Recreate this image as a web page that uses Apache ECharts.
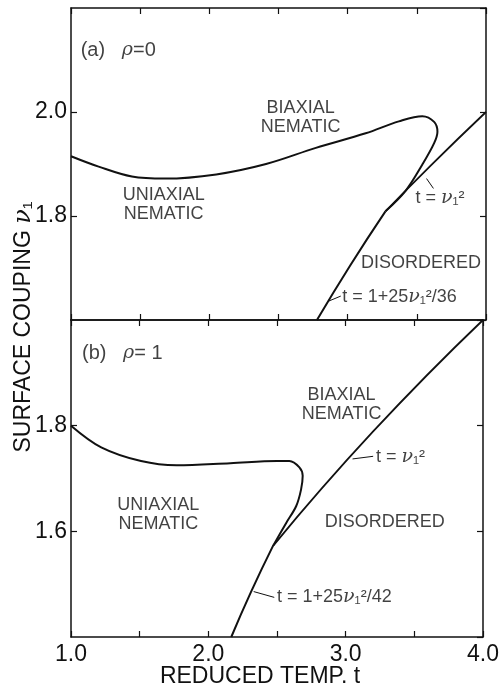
<!DOCTYPE html>
<html><head><meta charset="utf-8">
<script src="https://cdn.jsdelivr.net/npm/echarts@6/dist/echarts.min.js"></script>
<style>html,body{margin:0;padding:0;background:#fff}#c{width:502px;height:696px}</style>
</head><body><div id="c"></div>
<script>
// ---------- Panel (a): rho = 0 ----------
const aBiaxT   = [1.00, 1.20, 1.44, 1.68, 2.05, 2.41, 2.77, 3.13, 3.37, 3.54, 3.625, 3.649, 3.625, 3.54, 3.42, 3.273];
const aBiaxNu  = [1.915, 1.895, 1.876, 1.872, 1.880, 1.900, 1.931, 1.959, 1.982, 1.992, 1.981, 1.962, 1.940, 1.899, 1.849, 1.809];
const aFirstT  = [2.778, 3.016, 3.273];
const aFirstNu = [1.600, 1.704, 1.809];
const aSecondT  = [3.273, 3.60, 4.00];
const aSecondNu = [1.809, 1.897, 2.000];

// ---------- Panel (b): rho = 1 ----------
const bBiaxT   = [1.00, 1.22, 1.51, 1.77, 2.16, 2.50, 2.59, 2.663, 2.687, 2.675, 2.64, 2.567, 2.47];
const bBiaxNu  = [1.800, 1.759, 1.733, 1.725, 1.729, 1.733, 1.733, 1.721, 1.705, 1.679, 1.648, 1.616, 1.572];
const bFirstT  = [2.167, 2.31, 2.47];
const bFirstNu = [1.400, 1.485, 1.572];
const bSecondT  = [2.47, 3.20, 4.00];
const bSecondNu = [1.572, 1.789, 2.000];

// axis ranges / ticks
const tRange = [1.0, 4.0];
const aNuRange = [1.6, 2.2];
const bNuRange = [1.4, 2.0];

// annotation texts
const aTexts = ['(a)   {i|ρ}=0', 'BIAXIAL\nNEMATIC', 'UNIAXIAL\nNEMATIC', 'DISORDERED', 't = {i|ν}₁²', 't = 1+25{i|ν}₁²/36'];
const aTextT  = [1.07, 2.66, 1.67, 3.53, 3.49, 2.96];
const aTextNu = [2.119, 1.990, 1.823, 1.709, 1.834, 1.645];
const bTexts = ['(b)   {i|ρ}= 1', 'BIAXIAL\nNEMATIC', 'UNIAXIAL\nNEMATIC', 'DISORDERED', 't = {i|ν}₁²', 't = 1+25{i|ν}₁²/42'];
const bTextT  = [1.08, 2.97, 1.636, 3.285, 3.22, 2.50];
const bTextNu = [1.937, 1.840, 1.631, 1.617, 1.740, 1.476];
// leader lines
const aLead1T = [3.57, 3.62], aLead1Nu = [1.872, 1.853];
const aLead2T = [2.86, 2.95], aLead2Nu = [1.636, 1.646];
const bLead1T = [3.05, 3.20], bLead1Nu = [1.737, 1.742];
const bLead2T = [2.33, 2.48], bLead2Nu = [1.486, 1.475];

const FONT = 'Liberation Sans';
const INK = '#111';
const zip = (xs, ys) => xs.map((x, i) => [x, ys[i]]);

const chart = echarts.init(document.getElementById('c'));

function xAx(grid, pos, labels) {
  return {
    type: 'value', gridIndex: grid, position: pos, min: tRange[0], max: tRange[1], interval: 0.5,
    axisLine: { show: true, onZero: false, lineStyle: { color: INK, width: 1.5 } },
    axisTick: { show: true, inside: true, length: 6, lineStyle: { color: INK, width: 1.2 } },
    axisLabel: labels ? {
      show: true, margin: 6, color: INK, fontFamily: FONT, fontSize: 23,
      formatter: v => Math.abs(v - Math.round(v)) < 1e-6 ? v.toFixed(1) : ''
    } : { show: false },
    splitLine: { show: false }
  };
}
function yAx(grid, pos, range, labels) {
  return {
    type: 'value', gridIndex: grid, position: pos, min: range[0], max: range[1], interval: 0.2,
    axisLine: { show: true, onZero: false, lineStyle: { color: INK, width: 1.5 } },
    axisTick: { show: true, inside: true, length: 6, lineStyle: { color: INK, width: 1.2 } },
    axisLabel: labels ? {
      show: true, margin: 4, color: INK, fontFamily: FONT, fontSize: 23,
      showMinLabel: false, showMaxLabel: false, formatter: v => v.toFixed(1)
    } : { show: false },
    splitLine: { show: false }
  };
}
function curve(xi, yi, xs, ys, smooth, w) {
  return {
    type: 'line', xAxisIndex: xi, yAxisIndex: yi, data: zip(xs, ys), smooth: smooth,
    showSymbol: false, symbol: 'none', silent: true, clip: true,
    lineStyle: { color: INK, width: w }
  };
}
const rich = { i: { fontStyle: 'italic', fontFamily: 'DejaVu Serif', fontSize: 19, color: INK } };
function texts(xi, yi, txt, ts, ns) {
  return {
    type: 'scatter', xAxisIndex: xi, yAxisIndex: yi, symbolSize: 0, silent: true,
    data: txt.map((s, k) => {
      const left = k === 0 || k >= 4;
      return {
        value: [ts[k], ns[k]],
        label: {
          show: true, formatter: s, position: left ? 'right' : 'inside', distance: 0,
          align: left ? 'left' : 'center', verticalAlign: 'middle',
          fontFamily: FONT, fontSize: k === 0 ? 20 : 18, lineHeight: 19, color: INK, rich: rich
        }
      };
    })
  };
}

chart.setOption({
  backgroundColor: '#fff',
  animation: false,
  grid: [
    { left: 71, top: 8, width: 415, height: 312 },
    { left: 71, top: 320, width: 415, height: 317 }
  ],
  xAxis: [xAx(0, 'bottom', false), xAx(0, 'top', false), xAx(1, 'bottom', true), xAx(1, 'top', false)],
  yAxis: [yAx(0, 'left', aNuRange, true), yAx(0, 'right', aNuRange, false),
          yAx(1, 'left', bNuRange, true), yAx(1, 'right', bNuRange, false)],
  series: [
    curve(0, 0, aBiaxT, aBiaxNu, 0.35, 2),
    curve(0, 0, aFirstT, aFirstNu, true, 2),
    curve(0, 0, aSecondT, aSecondNu, true, 1.8),
    curve(0, 0, aLead1T, aLead1Nu, false, 1),
    curve(0, 0, aLead2T, aLead2Nu, false, 1),
    texts(0, 0, aTexts, aTextT, aTextNu),
    curve(2, 2, bBiaxT, bBiaxNu, 0.35, 2),
    curve(2, 2, bFirstT, bFirstNu, true, 2),
    curve(2, 2, bSecondT, bSecondNu, true, 1.8),
    curve(2, 2, bLead1T, bLead1Nu, false, 1),
    curve(2, 2, bLead2T, bLead2Nu, false, 1),
    texts(2, 2, bTexts, bTextT, bTextNu)
  ],
  graphic: [
    { type: 'text', x: 24, y: 327, rotation: Math.PI / 2, silent: true,
      style: { text: 'SURFACE COUPING {i|ν}₁', fill: INK, font: '23px "Liberation Sans"',
               align: 'center', verticalAlign: 'middle',
               rich: { i: { fontStyle: 'italic', fontFamily: 'DejaVu Serif', fontSize: 24, fill: INK } } } },
    { type: 'text', x: 260, y: 677, silent: true,
      style: { text: 'REDUCED TEMP. t', fill: INK, font: '23px "Liberation Sans"',
               align: 'center', verticalAlign: 'middle' } }
  ]
});
</script>
</body></html>
